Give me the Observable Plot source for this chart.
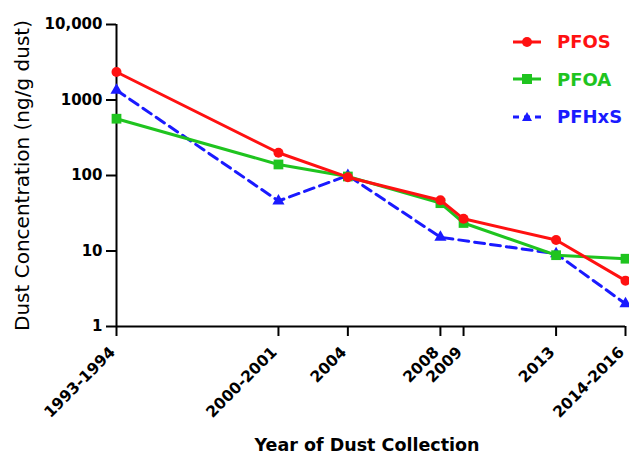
<!DOCTYPE html>
<html>
<head>
<meta charset="utf-8">
<script src="https://cdn.jsdelivr.net/npm/d3@7"></script>
<script src="https://cdn.jsdelivr.net/npm/@observablehq/plot@0.6"></script>
<style>
  body { margin: 0; background: #fff; }
  #wrap { position: relative; width: 629px; height: 455px; font-family: "DejaVu Sans", sans-serif; }
  #legend { position: absolute; left: 512px; top: 23px; }
  .row { display: flex; align-items: center; height: 37.5px; font-size: 18px; font-weight: bold; }
  .row svg { margin-right: 15px; }
</style>
</head>
<body>
<div id="wrap"><div id="legend"></div></div>
<script>
// Data
const years = [1994, 2001, 2004, 2008, 2009, 2013, 2016];
const yearLabels = ["1993-1994", "2000-2001", "2004", "2008", "2009", "2013", "2014-2016"];
const pfos = [2350, 200, 95, 47, 26.7, 14, 4.05];
const pfoa = [565, 140, 97, 43, 23.5, 8.8, 7.9];
const pfhxsYears = [1994, 2001, 2004, 2008, 2013, 2016];
const pfhxs = [1350, 46, 100, 15.2, 9.2, 2.0];
const yTicks = [1, 10, 100, 1000, 10000];
const yTickLabels = ["1", "10", "100", "1000", "10,000"];
const seriesNames = ["PFOS", "PFOA", "PFHxS"];
const colors = {PFOS: "#ff1111", PFOA: "#1fc41f", PFHxS: "#1a1aff"};

const rows = (xs, vs) => xs.map((x, i) => ({x, v: vs[i]}));
const dPFOS = rows(years, pfos);
const dPFOA = rows(years, pfoa);
const dPFHxS = rows(pfhxsYears, pfhxs);

const chart = Plot.plot({
  width: 629,
  height: 455,
  marginLeft: 116,
  marginRight: 4,
  marginTop: 24,
  marginBottom: 129,
  style: {fontFamily: "'DejaVu Sans', sans-serif", color: "#000", background: "transparent", overflow: "visible"},
  x: {domain: [1994, 2016]},
  y: {type: "log", domain: [1, 10000]},
  marks: [
    Plot.axisX(years, {tickSize: 10, strokeWidth: 2, tickFormat: () => "", label: null}),
    Plot.text(years, {
      x: d => d, frameAnchor: "bottom", text: (d, i) => yearLabels[i],
      rotate: -45, textAnchor: "end", lineAnchor: "middle", dx: -4, dy: 23,
      fontSize: 15.5, fontWeight: "bold"
    }),
    Plot.axisY(yTicks, {
      tickSize: 10, tickPadding: 4, strokeWidth: 2,
      tickFormat: d => yTickLabels[yTicks.indexOf(d)], label: null,
      fontSize: 15, fontWeight: "bold"
    }),
    Plot.ruleX([1994], {strokeWidth: 2}),
    Plot.ruleY([1], {strokeWidth: 2}),
    Plot.text(["Dust Concentration (ng/g dust)"], {frameAnchor: "left", textAnchor: "middle", rotate: -90, dx: -94, fontSize: 20}),
    Plot.text(["Year of Dust Collection"], {frameAnchor: "bottom", textAnchor: "middle", lineAnchor: "bottom", dx: -4, dy: 124, fontSize: 17.5, fontWeight: "bold"}),
    Plot.line(dPFHxS, {x: "x", y: "v", stroke: colors.PFHxS, strokeWidth: 3, strokeDasharray: "10,6"}),
    Plot.dot(dPFHxS, {x: "x", y: "v", symbol: "triangle", r: 4.5, fill: colors.PFHxS}),
    Plot.line(dPFOA, {x: "x", y: "v", stroke: colors.PFOA, strokeWidth: 3}),
    Plot.dot(dPFOA, {x: "x", y: "v", symbol: "square", r: 5.5, fill: colors.PFOA}),
    Plot.line(dPFOS, {x: "x", y: "v", stroke: colors.PFOS, strokeWidth: 3}),
    Plot.dot(dPFOS, {x: "x", y: "v", symbol: "circle", r: 5, fill: colors.PFOS})
  ]
});
document.getElementById("wrap").prepend(chart);

// Legend
const legend = document.getElementById("legend");
const symbolSvg = {
  PFOS: `<circle cx="15" cy="8" r="5" fill="${colors.PFOS}"/>`,
  PFOA: `<rect x="10" y="3" width="10" height="10" fill="${colors.PFOA}"/>`,
  PFHxS: `<path d="M15,3 L20,12 L10,12 Z" fill="${colors.PFHxS}"/>`
};
const dash = {PFOS: "", PFOA: "", PFHxS: ' stroke-dasharray="6,5"'};
seriesNames.forEach(name => {
  const row = document.createElement("div");
  row.className = "row";
  row.style.color = colors[name];
  row.innerHTML = `<svg width="30" height="16"><line x1="1" y1="8" x2="29" y2="8" stroke="${colors[name]}" stroke-width="3"${dash[name]}/>${symbolSvg[name]}</svg><span>${name}</span>`;
  legend.appendChild(row);
});
</script>
</body>
</html>
